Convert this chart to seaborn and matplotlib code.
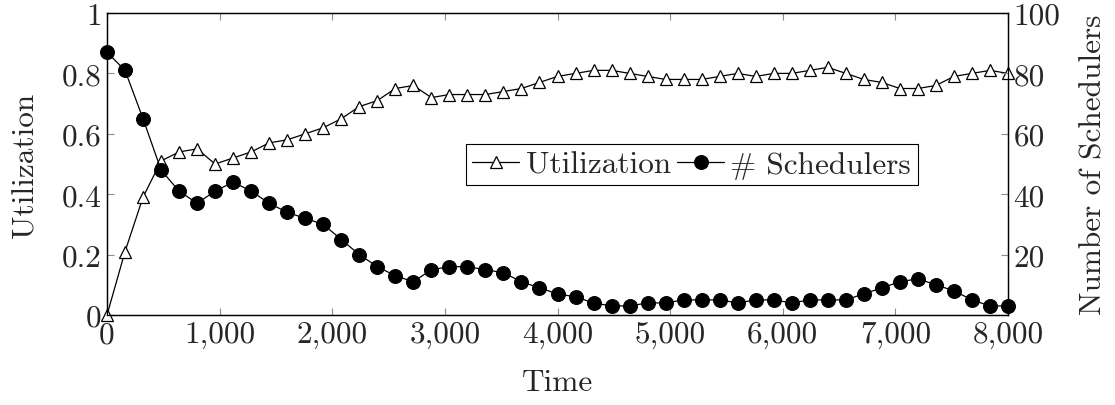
import numpy as np
import pandas as pd
import seaborn as sns
import matplotlib.pyplot as plt
from matplotlib.ticker import FuncFormatter, MultipleLocator

# sampled every 160 time units from 0 to 8000
time = list(range(0, 8001, 160))

utilization = [
    0.00, 0.21, 0.39, 0.51, 0.54, 0.55, 0.50, 0.52, 0.54, 0.57,
    0.58, 0.60, 0.62, 0.65, 0.69, 0.71, 0.75, 0.76, 0.72, 0.73,
    0.73, 0.73, 0.74, 0.75, 0.77, 0.79, 0.80, 0.81, 0.81, 0.80,
    0.79, 0.78, 0.78, 0.78, 0.79, 0.80, 0.79, 0.80, 0.80, 0.81,
    0.82, 0.80, 0.78, 0.77, 0.75, 0.75, 0.76, 0.79, 0.80, 0.81,
    0.80,
]

schedulers = [
    87, 81, 65, 48, 41, 37, 41, 44, 41, 37,
    34, 32, 30, 25, 20, 16, 13, 11, 15, 16,
    16, 15, 14, 11, 9, 7, 6, 4, 3, 3,
    4, 4, 5, 5, 5, 4, 5, 5, 4, 5,
    5, 5, 7, 9, 11, 12, 10, 8, 5, 3,
    3,
]

df = pd.DataFrame({"Time": time, "Utilization": utilization,
                   "Schedulers": schedulers})

sns.set_style("ticks")
plt.rcParams["font.family"] = ["cmr10", "DejaVu Serif"]
plt.rcParams["axes.formatter.use_mathtext"] = True
plt.rcParams["mathtext.fontset"] = "cm"

fs = 22.5
fig = plt.figure(figsize=(11.15, 4.06), dpi=100, facecolor="white")
ax = fig.add_axes([107 / 1115, 90 / 406, 901 / 1115, 302 / 406])
ax2 = ax.twinx()

# utilization on the left axis
sns.lineplot(data=df, x="Time", y="Utilization", ax=ax, color="black",
             linewidth=0.9, marker="^", markersize=8.5,
             markerfacecolor="white", markeredgecolor="black",
             markeredgewidth=0.9, label="Utilization", legend=False,
             clip_on=False, zorder=5)

# number of schedulers on the right axis
sns.lineplot(data=df, x="Time", y="Schedulers", ax=ax2, color="black",
             linewidth=0.9, marker="o", markersize=10,
             markerfacecolor="black", markeredgecolor="black",
             label="# Schedulers", legend=False, clip_on=False, zorder=5)

ax.set_xlim(0, 8000)
ax.set_ylim(0, 1)
ax2.set_ylim(0, 100)

ax.xaxis.set_major_locator(MultipleLocator(1000))
ax.xaxis.set_major_formatter(FuncFormatter(lambda v, p: f"{v:,.0f}"))
ax.yaxis.set_major_locator(MultipleLocator(0.2))
ax.yaxis.set_major_formatter(FuncFormatter(lambda v, p: f"{v:g}"))
ax2.set_yticks([20, 40, 60, 80, 100])
ax2.yaxis.set_major_formatter(FuncFormatter(lambda v, p: f"{v:g}"))

ax.tick_params(axis="x", direction="in", top=True, length=5, width=0.8,
               color="0.55", labelsize=fs, pad=4)
ax.tick_params(axis="y", direction="in", right=False, length=5, width=0.8,
               color="0.55", labelsize=fs, pad=4)
ax2.tick_params(axis="y", direction="in", length=5, width=0.8,
                color="0.55", labelsize=fs, pad=4)

for a in (ax, ax2):
    for s in a.spines.values():
        s.set_linewidth(0.9)
        s.set_color("black")

ax.set_xlabel("Time", fontsize=fs, labelpad=14)
ax.set_ylabel("Utilization", fontsize=fs, labelpad=16)
ax2.set_ylabel("Number of Schedulers", fontsize=fs, labelpad=14)

h1, l1 = ax.get_legend_handles_labels()
h2, l2 = ax2.get_legend_handles_labels()
leg = ax2.legend(h1 + h2, l1 + l2, loc="center", bbox_to_anchor=(0.649, 0.498),
                 ncol=2, fontsize=fs, frameon=True, fancybox=False,
                 edgecolor="black", framealpha=1, handlelength=1.5,
                 handletextpad=0.2, columnspacing=0.2, borderpad=0.22,
                 borderaxespad=0)
leg.get_frame().set_linewidth(0.8)
leg.set_zorder(10)

plt.savefig("out.png", dpi=100, facecolor="white")
